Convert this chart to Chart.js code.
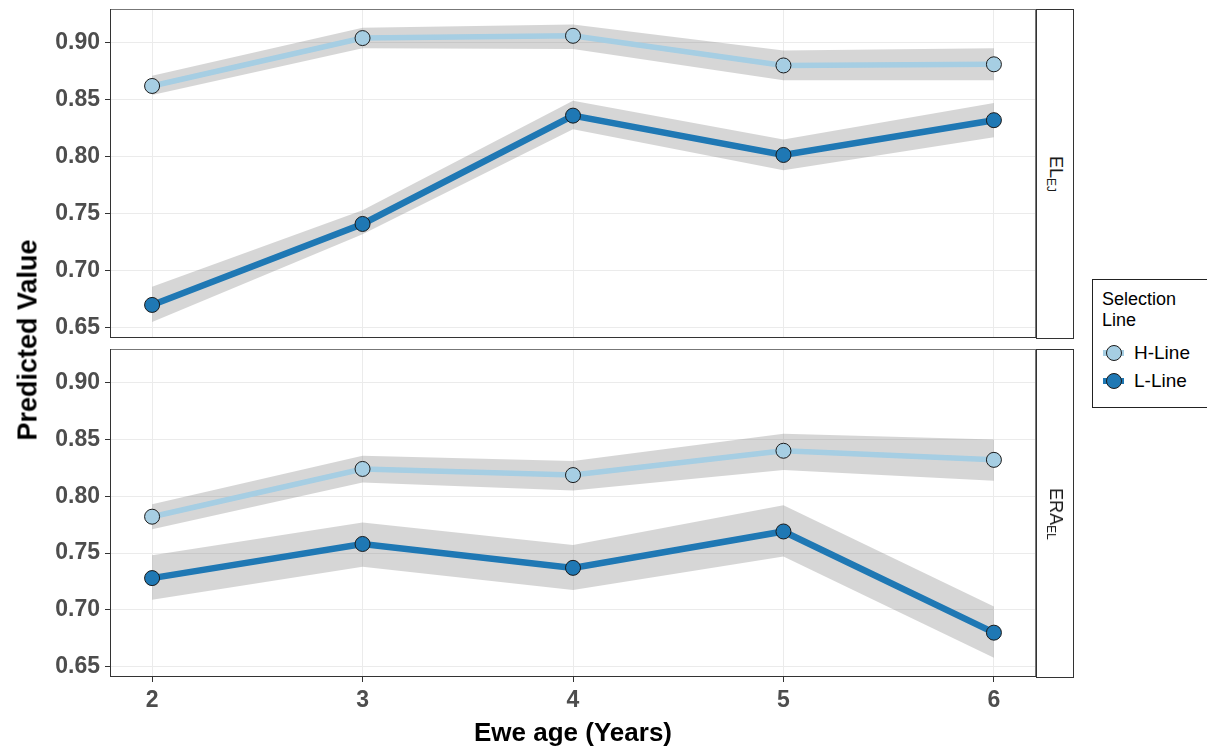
<!DOCTYPE html>
<html>
<head>
<meta charset="utf-8">
<script src="https://cdn.jsdelivr.net/npm/chart.js@4.4.1/dist/chart.umd.min.js"></script>
<style>
  html, body { margin: 0; padding: 0; background: #fff; }
  #wrap { position: relative; width: 1207px; height: 751px; overflow: hidden; font-family: 'Liberation Sans', Arial, sans-serif; }
  canvas { position: absolute; left: 0; }
  .strip { position: absolute; left: 1036px; width: 36px; background: #fff; border: 1px solid #333; box-sizing: content-box; }
  .strip span { position: absolute; left: 50%; top: 50%; transform: translate(-50%, -50%) rotate(90deg); white-space: nowrap; font-size: 18px; color: #1a1a1a; }
  .strip sub { font-size: 12px; vertical-align: -3px; }
  #ytitle { position: absolute; left: 28px; top: 340px; transform: translate(-50%, -50%) rotate(-90deg); white-space: nowrap; font-weight: bold; font-size: 27px; color: #000; }
  #legend { position: absolute; left: 1092px; top: 279px; width: 140px; height: 127px; border: 1px solid #222; background: #fff; }
  #legend .ttl { position: absolute; left: 9px; top: 9px; font-size: 18px; line-height: 21px; color: #000; }
  #legend .item { position: absolute; left: 0; height: 20px; width: 140px; }
  #legend .seg { position: absolute; left: 10px; width: 21px; top: 7px; height: 6px; }
  #legend .dot { position: absolute; left: 13px; top: 2px; width: 14px; height: 14px; border-radius: 50%; border: 1px solid #1a1a1a; }
  #legend .lbl { position: absolute; left: 41px; top: -1px; font-size: 19px; line-height: 22px; color: #000; }
</style>
</head>
<body>
<div id="wrap">
  <canvas id="top" width="1040" height="345" style="top:0"></canvas>
  <canvas id="bottom" width="1040" height="406" style="top:345px"></canvas>
  <div class="strip" style="top:9px;height:328px"><span>EL<sub>EJ</sub></span></div>
  <div class="strip" style="top:349px;height:327px"><span>ERA<sub>EL</sub></span></div>
  <div id="ytitle">Predicted Value</div>
  <div id="legend">
    <div class="ttl">Selection<br>Line</div>
    <div class="item" style="top:63px"><div class="seg" style="background:#a6cee3"></div><div class="dot" style="background:#a6cee3"></div><div class="lbl">H-Line</div></div>
    <div class="item" style="top:91px"><div class="seg" style="background:#1f78b4"></div><div class="dot" style="background:#1f78b4"></div><div class="lbl">L-Line</div></div>
  </div>
</div>
<script>
// Ewe age categories and y tick values
const ages = [2, 3, 4, 5, 6];
const yTicks = [0.65, 0.70, 0.75, 0.80, 0.85, 0.90];
const seriesNames = ['H-Line', 'L-Line'];

// EL_EJ panel: predicted values with lower / upper confidence bounds
const elejH    = [0.862, 0.904, 0.906, 0.880, 0.881];
const elejHLo  = [0.854, 0.895, 0.8945, 0.867, 0.867];
const elejHHi  = [0.871, 0.913, 0.916, 0.893, 0.895];
const elejL    = [0.670, 0.741, 0.836, 0.8015, 0.832];
const elejLLo  = [0.655, 0.732, 0.824, 0.788, 0.817];
const elejLHi  = [0.686, 0.753, 0.849, 0.815, 0.847];

// ERA_EL panel
const eraelH   = [0.782, 0.824, 0.8186, 0.840, 0.832];
const eraelHLo = [0.771, 0.812, 0.805, 0.823, 0.8136];
const eraelHHi = [0.793, 0.8355, 0.831, 0.855, 0.850];
const eraelL   = [0.728, 0.758, 0.737, 0.769, 0.680];
const eraelLLo = [0.709, 0.738, 0.7175, 0.747, 0.658];
const eraelLHi = [0.748, 0.777, 0.757, 0.792, 0.703];

const FONT = "'Liberation Sans', Arial, sans-serif";
const colH = '#a6cee3';
const colL = '#1f78b4';
const bandCol = 'rgba(128,128,128,0.32)';

const pts = arr => ages.map((a, i) => ({ x: a, y: arr[i] }));

function band(hi, lo) {
  const common = { pointRadius: 0, borderWidth: 0, borderColor: 'rgba(0,0,0,0)', tension: 0 };
  return [
    Object.assign({ data: pts(hi), fill: false }, common),
    Object.assign({ data: pts(lo), fill: '-1', backgroundColor: bandCol }, common)
  ];
}

function line(vals, col, w, label) {
  return {
    label, data: pts(vals), borderColor: col, borderWidth: w, fill: false, tension: 0,
    pointRadius: 7.5, pointBackgroundColor: col, pointBorderColor: '#1a1a1a', pointBorderWidth: 1,
    pointHoverRadius: 7.5
  };
}

// Panel outline: grey frame with a darker bottom / left edge
const panelFrame = {
  id: 'panelFrame',
  afterDraw(chart) {
    const { ctx, chartArea: a } = chart;
    ctx.save();
    ctx.lineWidth = 1;
    ctx.strokeStyle = '#777';
    ctx.strokeRect(a.left + 0.5, a.top + 0.5, a.right - a.left - 1, a.bottom - a.top - 1);
    ctx.strokeStyle = '#333';
    ctx.beginPath();
    ctx.moveTo(a.left, a.bottom - 0.5); ctx.lineTo(a.right, a.bottom - 0.5);
    ctx.moveTo(a.left + 0.5, a.top); ctx.lineTo(a.left + 0.5, a.bottom);
    ctx.stroke();
    ctx.restore();
  }
};

function makePanel(id, series, showX) {
  const [hV, hLo, hHi, lV, lLo, lHi] = series;
  const datasets = [
    ...band(hHi, hLo),
    ...band(lHi, lLo),
    line(hV, colH, 5.5, seriesNames[0]),
    line(lV, colL, 6.5, seriesNames[1])
  ];
  return new Chart(document.getElementById(id), {
    type: 'line',
    data: { datasets },
    plugins: [panelFrame],
    options: {
      responsive: false,
      animation: false,
      devicePixelRatio: 1,
      layout: {
        autoPadding: false,
        padding: showX ? { left: 0, right: 4, top: 4, bottom: 2 } : { left: 0, right: 4, top: 9, bottom: 7 }
      },
      plugins: {
        legend: { display: false },
        tooltip: { enabled: false },
        filler: { drawTime: 'beforeDatasetsDraw' }
      },
      scales: {
        x: {
          type: 'linear', min: 1.8, max: 6.2,
          afterBuildTicks: s => { s.ticks = ages.map(v => ({ value: v })); },
          afterFit: s => {
            s.height = showX ? 72 : 0;
            s.paddingLeft = 0; s.paddingRight = 0;
          },
          grid: { color: '#ebebeb', lineWidth: 1, drawTicks: showX, tickLength: 5, tickColor: '#333' },
          border: { display: false },
          ticks: {
            display: showX, padding: 5, color: '#4d4d4d',
            font: { family: FONT, size: 23, weight: 'bold' },
            callback: v => String(v)
          },
          title: {
            display: showX, text: 'Ewe age (Years)', color: '#000',
            font: { family: FONT, size: 26, weight: 'bold' }, padding: { top: 0, bottom: 0 }
          }
        },
        y: {
          type: 'linear', min: 0.641, max: 0.9295,
          afterBuildTicks: s => { s.ticks = yTicks.map(v => ({ value: v })); },
          afterFit: s => {
            s.width = 110;
            s.paddingTop = 0; s.paddingBottom = 0;
          },
          grid: { color: '#ebebeb', lineWidth: 1, drawTicks: true, tickLength: 5, tickColor: '#333' },
          border: { display: false },
          ticks: {
            padding: 5, color: '#4d4d4d',
            font: { family: FONT, size: 23, weight: 'bold' },
            callback: v => Number(v).toFixed(2)
          }
        }
      }
    }
  });
}

makePanel('top', [elejH, elejHLo, elejHHi, elejL, elejLLo, elejLHi], false);
makePanel('bottom', [eraelH, eraelHLo, eraelHHi, eraelL, eraelLLo, eraelLHi], true);
</script>
</body>
</html>
